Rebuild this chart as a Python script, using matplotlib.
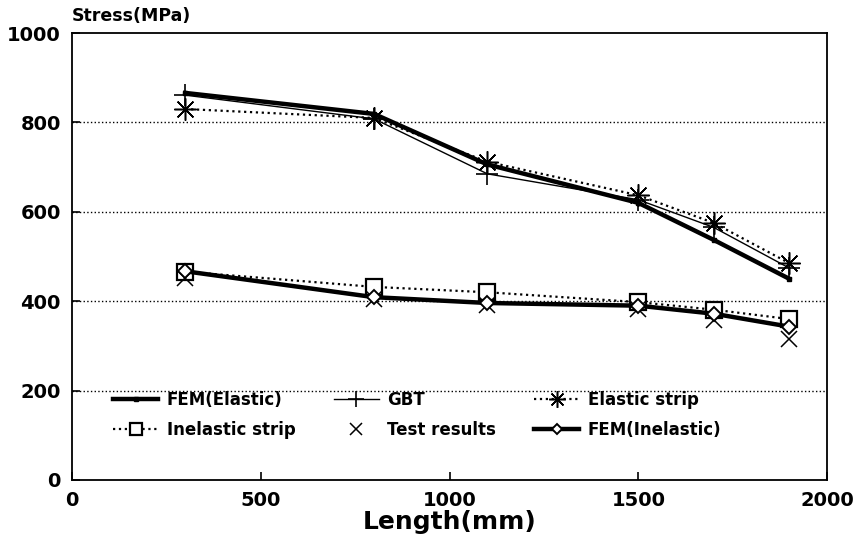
import matplotlib
matplotlib.use('Agg')
import matplotlib.pyplot as plt

# lengths (mm) and stresses (MPa)
length = [300, 800, 1100, 1500, 1700, 1900]
fem_elastic = [866, 819, 706, 620, 537, 450]
gbt = [861, 808, 685, 627, 565, 474]
elastic_strip = [830, 810, 712, 637, 575, 485]
inelastic_strip = [466, 432, 420, 398, 381, 360]
test_results = [453, 405, 391, 383, 358, 316]
fem_inelastic = [467, 409, 396, 390, 372, 343]

plt.rcParams['font.family'] = ['DejaVu Sans']
plt.rcParams['font.weight'] = 'bold'

fig = plt.figure(figsize=(8.66, 5.45), dpi=100)
ax = fig.add_axes([0.0831, 0.1193, 0.872, 0.8201])

h1, = ax.plot(length, fem_elastic, '-', color='black', lw=3.2, marker='s', ms=3.5, label='FEM(Elastic)')
h2, = ax.plot(length, gbt, '-', color='black', lw=1.0, marker='+', ms=16, mew=1.2, label='GBT')
h3, = ax.plot(length, elastic_strip, ':', color='black', lw=1.6, marker=(8, 2, 0), ms=16, mew=1.1, label='Elastic strip')
h4, = ax.plot(length, inelastic_strip, ':', color='black', lw=1.6, marker='s', ms=11, mfc='white', mew=1.6, label='Inelastic strip')
h5, = ax.plot(length, test_results, ls='none', color='black', marker='x', ms=12, mew=1.1, label='Test results')
h6, = ax.plot(length, fem_inelastic, '-', color='black', lw=3.2, marker='D', ms=7, mfc='white', mew=1.4, label='FEM(Inelastic)')

ax.set_xlim(0, 2000)
ax.set_ylim(0, 1000)
ax.set_xticks([0, 500, 1000, 1500, 2000])
ax.set_yticks([0, 200, 400, 600, 800, 1000])
ax.tick_params(direction='in', length=6, width=1.2, labelsize=14, pad=8)
for lab in ax.get_xticklabels() + ax.get_yticklabels():
    lab.set_fontweight('bold')
for sp in ax.spines.values():
    sp.set_linewidth(1.3)

# dotted horizontal grid at 200..800
for yv in [200, 400, 600, 800]:
    ax.axhline(yv, color='black', ls=':', lw=1.0, zorder=0)

ax.set_xlabel('Length(mm)', fontsize=18, fontweight='bold', labelpad=0)
fig.text(0.0831, 0.955, 'Stress(MPa)', fontsize=12.5, fontweight='bold', ha='left', va='bottom')

# legend is filled row by row in the reference
handles = [h1, h4, h2, h5, h3, h6]
labels = [h.get_label() for h in handles]
leg = ax.legend(handles, labels, ncol=3, loc='upper left', bbox_to_anchor=(0.035, 0.232),
                frameon=False, fontsize=12, handlelength=2.7, handletextpad=0.5,
                columnspacing=2.3, labelspacing=0.7, markerscale=0.75)
for t in leg.get_texts():
    t.set_fontweight('bold')

fig.savefig('out.png', dpi=100)
